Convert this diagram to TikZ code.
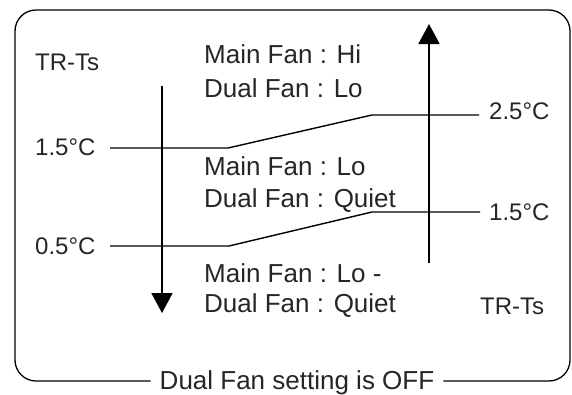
\documentclass[tikz,border=0pt]{standalone}
\usepackage{fontspec}
\setmainfont{Liberation Sans}
\usetikzlibrary{arrows.meta}

\newcommand\modefont{\fontsize{26}{30}\selectfont}

\tikzset{
  txt/.style={font=\fontsize{24}{28}\selectfont, inner sep=0pt, anchor=base west, text=black!85},
  mode/.style={txt, font=\modefont},
  thr/.style={line width=1.4pt},
  flow/.style={line width=2pt, -{Triangle[length=20pt,width=21pt]}}
}

\begin{document}
\begin{tikzpicture}[x=1pt,y=-1pt]

\useasboundingbox (0,0) rectangle (572,394);

% frame with the caption cut into its bottom edge
\node[mode, anchor=center, fill=white, inner xsep=9pt, inner ysep=2pt] (cap) at (297,383) {Dual Fan setting is OFF};
\draw[line width=1.3pt, rounded corners=21pt] (cap.west |- 0,381) -- (15,381) -- (15,10) -- (570,10) -- (570,381) -- (cap.east |- 0,381);

% axis labels
\node[txt] (trtop) at (35,70) {TR-Ts};
\node[txt] (trbot) at (480,314) {TR-Ts};

% temperature labels
\node[txt] (lA) at (35,155) {1.5°C};
\node[txt] (lB) at (35,254) {0.5°C};
\node[txt] (rA) at (489,119) {2.5°C};
\node[txt] (rB) at (489,220) {1.5°C};

% fan modes
\node[mode] (m1) at (204,63) {Main Fan : Hi};
\node[mode] (d1) at (204,97) {Dual Fan : Lo};
\node[mode] (m2) at (204,175) {Main Fan : Lo};
\node[mode] (d2) at (204,207) {Dual Fan : Quiet};
\node[mode] (m3) at (204,282) {Main Fan : Lo -};
\node[mode] (d3) at (204,312) {Dual Fan : Quiet};

% switching lines
\coordinate (a0) at (110,148);
\coordinate (a1) at (228,148);
\coordinate (a2) at (372,115);
\coordinate (a3) at (479,115);
\draw[thr] (a0) -- (a1) -- (a2) -- (a3);

\coordinate (b0) at (110,246);
\coordinate (b1) at (229,246);
\coordinate (b2) at (372,212);
\coordinate (b3) at (480,212);
\draw[thr] (b0) -- (b1) -- (b2) -- (b3);

% falling and rising arrows
\coordinate (dn0) at (162,86);
\coordinate (dn1) at (162,313);
\draw[flow] (dn0) -- (dn1);

\coordinate (up0) at (429,263);
\coordinate (up1) at (429,24);
\draw[flow] (up0) -- (up1);

\end{tikzpicture}
\end{document}
